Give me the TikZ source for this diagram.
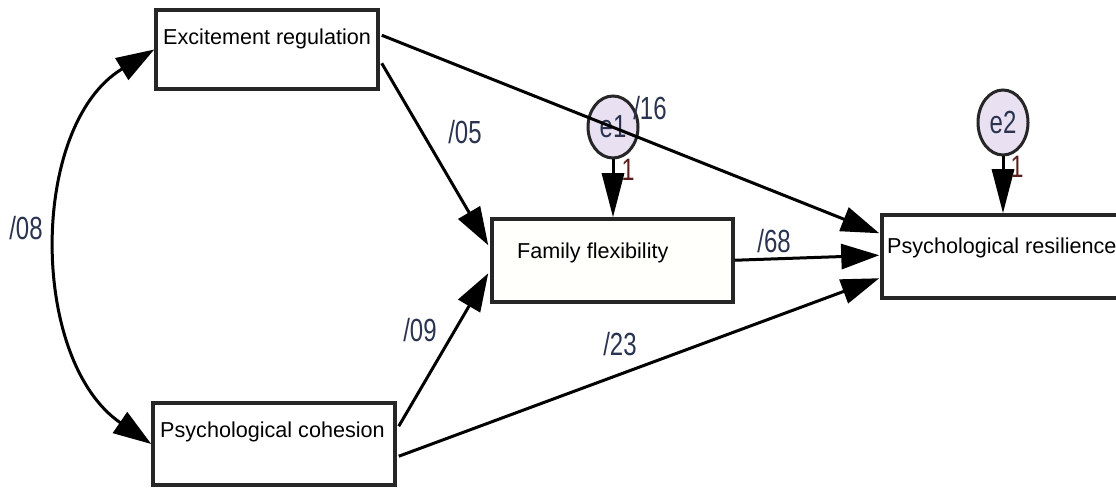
\documentclass[tikz,border=0pt]{standalone}
\usepackage{fontspec}
\setmainfont{Liberation Sans}
\usetikzlibrary{arrows.meta,calc,shapes.geometric}
\definecolor{lblcol}{HTML}{2A3350}
\definecolor{onecol}{HTML}{5A1E1E}
\definecolor{efill}{HTML}{E9E0F2}
\definecolor{ffill}{HTML}{FFFFFB}
\newcommand{\narrow}[1]{\scalebox{0.75}[1]{#1}}
\tikzset{
  box/.style={draw=black!85, line width=3.5pt, fill=white, inner sep=0pt},
  boxtext/.style={inner sep=0pt, font=\fontsize{21.6}{26}\selectfont, anchor=base west},
  conn/.style={line width=3pt, -{Triangle[length=38pt,width=25pt]}},
  econn/.style={line width=3pt, -{Triangle[length=44pt,width=22pt]}},
  bicurve/.style={line width=3pt, {Triangle[length=38pt,width=25pt]}-{Triangle[length=38pt,width=25pt]}},
  lbl/.style={text=lblcol, inner sep=0pt, font=\fontsize{32}{34}\selectfont},
  onelbl/.style={text=onecol, inner sep=0pt, font=\fontsize{31}{34}\selectfont},
  errnode/.style={ellipse, draw=black!85, line width=3pt, fill=efill, minimum width=50pt, minimum height=62pt, inner sep=0pt, text=lblcol, font=\fontsize{32}{34}\selectfont}
}
\begin{document}
\begin{tikzpicture}[x=1pt,y=-1pt]
\useasboundingbox[fill=white] (0,0) rectangle (1116,489);

% boxes
\node[box, minimum width=222pt, minimum height=79pt] (er) at (267,49.5) {};
\node[box, fill=ffill, minimum width=241pt, minimum height=83pt] (ff) at (612.5,260.5) {};
\node[box, minimum width=248pt, minimum height=83pt] (pr) at (1006,256.5) {};
\node[box, minimum width=242pt, minimum height=82pt] (pc) at (274,444) {};

% box texts
\node[boxtext] (ert) at (163,45) {Excitement regulation};
\node[boxtext] (fft) at (517,258) {Family flexibility};
\node[boxtext] (prt) at (887,253) {Psychological resilience};
\node[boxtext] (pct) at (160,437) {Psychological cohesion};

% error terms
\node[errnode] (e1) at (613,127) {\narrow{e1}};
\node[errnode, minimum height=65pt] (e2) at (1003,122.5) {\narrow{e2}};

% connectors
\draw[conn] ($(er.north east)+(2,27)$) -- ($(pr.north west)+(-1,20)$);
\draw[conn] ($(er.north east)+(2,55)$) -- ($(ff.north west)+(-2,28)$);
\draw[conn] ($(pc.north east)+(2,25)$) -- ($(ff.north west)+(-2,56)$);
\draw[conn] ($(pc.north east)+(2,55)$) -- ($(pr.north west)+(-1,65)$);
\draw[conn] ($(ff.north east)+(0,43)$) -- ($(pr.north west)+(-1,42)$);
\draw[econn] (e1.south) -- (e1.south |- ff.north);
\draw[econn] (e2.south) -- (e2.south |- pr.north);
\draw[bicurve] (er.west) .. controls (29,125) and (29,360) .. (pc.west);

% labels
\node[lbl] (l08) at (26,228) {\narrow{/08}};
\node[lbl] (l05) at (465,132) {\narrow{/05}};
\node[lbl] (l16) at (650,108) {\narrow{/16}};
\node[lbl] (l09) at (420,330) {\narrow{/09}};
\node[lbl] (l23) at (620,344) {\narrow{/23}};
\node[lbl] (l68) at (774,241) {\narrow{/68}};
\node[onelbl] (one1) at (628,170) {\narrow{1}};
\node[onelbl] (one2) at (1017,167) {\narrow{1}};
\end{tikzpicture}
\end{document}
